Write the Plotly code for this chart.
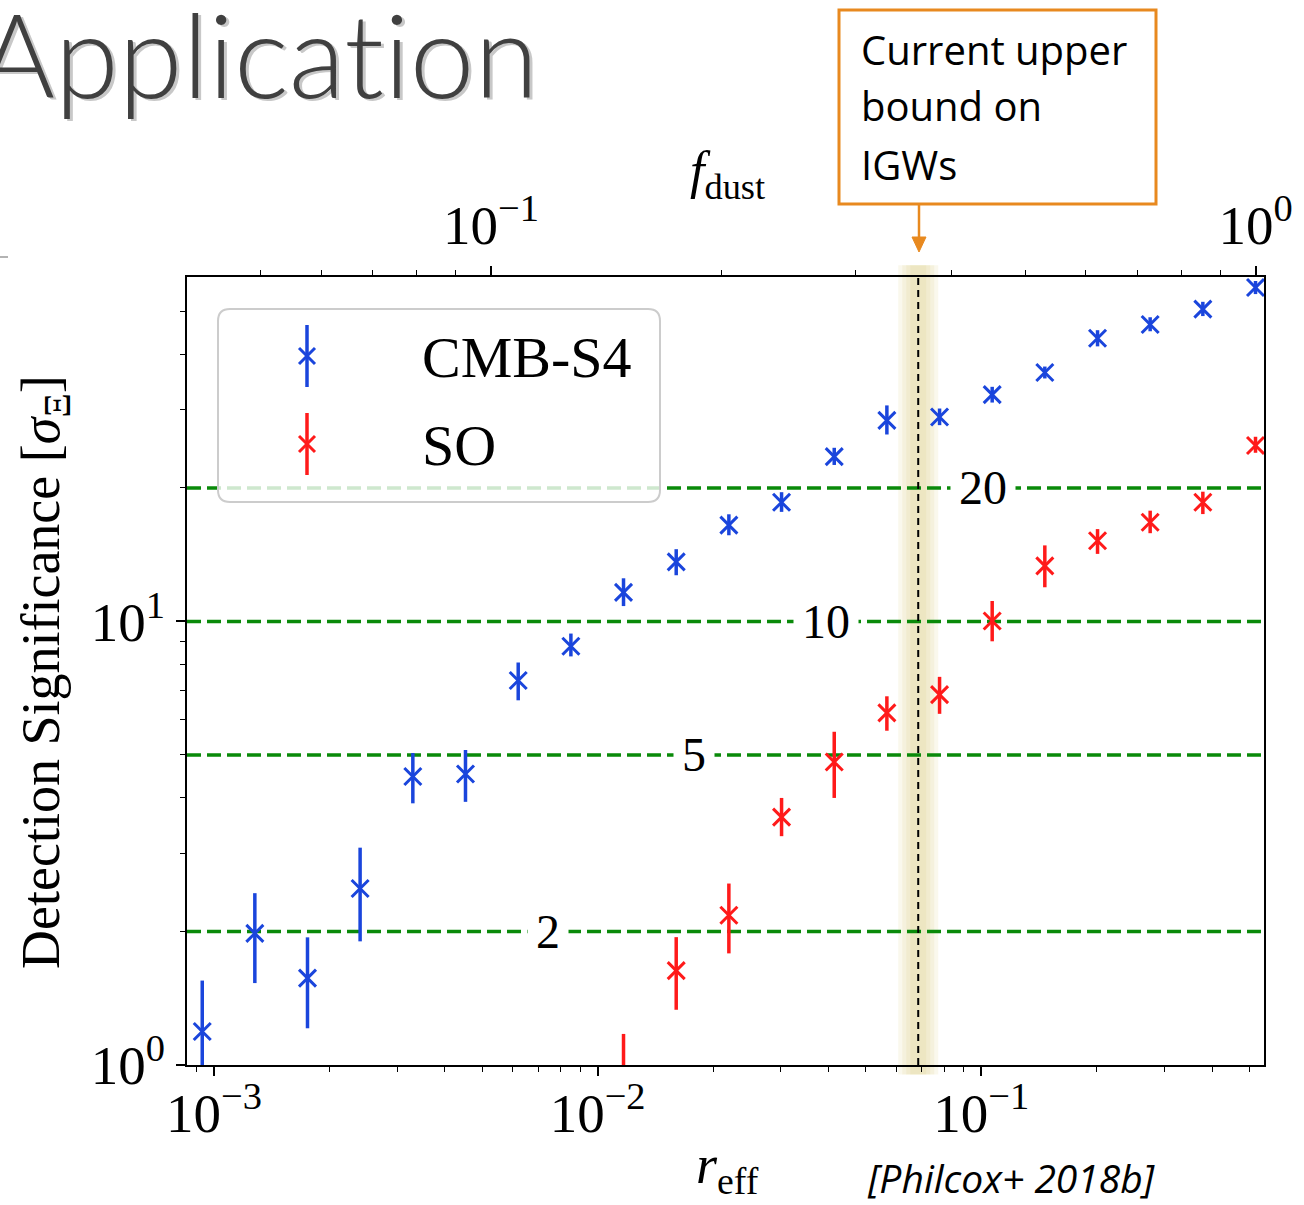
import math
import plotly.graph_objects as go

# ---------------- data ----------------
r_eff = [0.000932, 0.001278, 0.001753, 0.002404, 0.003299, 0.004525, 0.006209,
         0.008518, 0.011682, 0.016028, 0.021985, 0.030163, 0.041378, 0.056754,
         0.077860, 0.10678, 0.14645, 0.20096, 0.27559, 0.37809, 0.51863]

cmb_s4 = [1.19, 1.98, 1.57, 2.50, 4.47, 4.53, 7.36, 8.79, 11.63, 13.62, 16.49,
          18.56, 23.53, 28.39, 28.9, 32.45, 36.4, 43.5, 46.7, 50.6, 56.6]
cmb_s4_err_up = [0.36, 0.46, 0.37, 0.59, 0.58, 0.60, 0.72, 0.60, 0.88, 0.93, 0.95,
                 1.0, 1.1, 2.3, 1.3, 1.35, 1.15, 1.85, 1.8, 1.95, 1.95]
cmb_s4_err_dn = [0.28, 0.45, 0.36, 0.60, 0.58, 0.61, 0.72, 0.45, 0.80, 0.91, 0.85,
                 0.9, 1.0, 2.0, 1.2, 1.3, 1.1, 1.8, 1.6, 1.8, 1.9]

so_r_eff = [0.011682, 0.016028, 0.021985, 0.030163, 0.041378, 0.056754, 0.077860,
            0.10678, 0.14645, 0.20096, 0.27559, 0.37809, 0.51863]
so = [0.88, 1.632, 2.175, 3.62, 4.82, 6.22, 6.84, 10.02, 13.34, 15.2, 16.73, 18.56, 24.93]
so_err_up = [0.295, 0.31, 0.39, 0.38, 0.82, 0.56, 0.66, 1.1, 1.5, 0.95, 1.04, 1.05, 1.15]
so_err_dn = [0.10, 0.30, 0.39, 0.34, 0.82, 0.55, 0.65, 1.0, 1.4, 1.0, 0.92, 1.1, 0.93]

sigma_levels = [2, 5, 10, 20]
sigma_labels = ["2", "5", "10", "20"]
sigma_label_r = [0.00743, 0.01784, 0.03936, 0.10109]

r_bound = 0.0685

x_ticks = [1e-3, 1e-2, 1e-1]
x_ticktext = ["10<sup>−3</sup>", "10<sup>−2</sup>", "10<sup>−1</sup>"]
y_ticks = [1, 10]
y_ticktext = ["10<sup>0</sup>", "10<sup>1</sup>"]
f_ticks = [0.1, 1.0]
f_ticktext = ["10<sup>−1</sup>", "10<sup>0</sup>"]

x_minor = [k * 10.0 ** e for e in (-4, -3, -2, -1) for k in range(2, 10)]
y_minor = [k * 10.0 ** e for e in (0, 1) for k in range(2, 10)]
f_minor = [k * 10.0 ** e for e in (-2, -1) for k in range(2, 10)]

# ---------------- geometry helpers ----------------
W_FIG, H_FIG = 1304, 1205
ML, MR, MT, MB = 187, 40, 277, 140
PW, PH = W_FIG - ML - MR, H_FIG - MT - MB


def px(x):
    return (x - ML) / PW


def py(y):
    return (H_FIG - MB - y) / PH


BLUE = "#1a45dc"
RED = "#ff1a1a"
GREEN = "#0a8a0a"
ORANGE = "#e8891f"
SERIF = "Liberation Serif, DejaVu Serif, serif"
SANS = "Open Sans, Noto Sans, sans-serif"

fig = go.Figure()

# ---------------- data traces ----------------
fig.add_trace(go.Scatter(
    x=r_eff, y=cmb_s4, mode="markers", name="CMB-S4",
    marker=dict(symbol="x-thin", size=17, color=BLUE, line=dict(width=3, color=BLUE)),
    error_y=dict(type="data", symmetric=False, array=cmb_s4_err_up,
                 arrayminus=cmb_s4_err_dn, color=BLUE, thickness=3.5, width=0),
    showlegend=False, cliponaxis=True,
))
fig.add_trace(go.Scatter(
    x=so_r_eff, y=so, mode="markers", name="SO",
    marker=dict(symbol="x-thin", size=17, color=RED, line=dict(width=3, color=RED)),
    error_y=dict(type="data", symmetric=False, array=so_err_up,
                 arrayminus=so_err_dn, color=RED, thickness=3.5, width=0),
    showlegend=False, cliponaxis=True,
))
# invisible trace to activate the top axis
fig.add_trace(go.Scatter(x=f_ticks, y=[1, 1], xaxis="x2", mode="markers",
                         marker=dict(opacity=0), hoverinfo="skip", showlegend=False))

shapes = []
# glow band around the upper bound
for half in (20, 16, 12, 8):
    d = half / 384.0
    shapes.append(dict(type="rect", xref="x", yref="paper",
                       x0=r_bound / 10 ** d, x1=r_bound * 10 ** d, y0=-0.012, y1=1.015,
                       fillcolor="rgba(214,198,105,0.12)", line=dict(width=0), layer="below"))
# significance levels
for lev in sigma_levels:
    shapes.append(dict(type="line", xref="paper", yref="y", x0=0, x1=1, y0=lev, y1=lev,
                       line=dict(color=GREEN, width=3.5, dash="14px,6px"), layer="below"))
# vertical bound line
shapes.append(dict(type="line", xref="x", yref="paper", x0=r_bound, x1=r_bound, y0=0, y1=1,
                   line=dict(color="black", width=2, dash="7px,5px"), layer="above"))


def rounded_rect(x0, y0, x1, y1, r):
    return (f"M {px(x0 + r)},{py(y0)} L {px(x1 - r)},{py(y0)} "
            f"Q {px(x1)},{py(y0)} {px(x1)},{py(y0 + r)} L {px(x1)},{py(y1 - r)} "
            f"Q {px(x1)},{py(y1)} {px(x1 - r)},{py(y1)} L {px(x0 + r)},{py(y1)} "
            f"Q {px(x0)},{py(y1)} {px(x0)},{py(y1 - r)} L {px(x0)},{py(y0 + r)} "
            f"Q {px(x0)},{py(y0)} {px(x0 + r)},{py(y0)} Z")


# legend box
shapes.append(dict(type="path", xref="paper", yref="paper",
                   path=rounded_rect(218, 309, 660, 502, 12),
                   fillcolor="rgba(255,255,255,0.8)", line=dict(color="#cccccc", width=2),
                   layer="above"))
# legend symbols
for col, yc in ((BLUE, 356), (RED, 444)):
    shapes.append(dict(type="line", xref="paper", yref="paper", x0=px(307), x1=px(307),
                       y0=py(yc - 31), y1=py(yc + 31), line=dict(color=col, width=3.5)))
    shapes.append(dict(type="line", xref="paper", yref="paper", x0=px(299), x1=px(315),
                       y0=py(yc - 8), y1=py(yc + 8), line=dict(color=col, width=3)))
    shapes.append(dict(type="line", xref="paper", yref="paper", x0=px(299), x1=px(315),
                       y0=py(yc + 8), y1=py(yc - 8), line=dict(color=col, width=3)))

# annotation box and arrow
shapes.append(dict(type="rect", xref="paper", yref="paper", x0=px(839), x1=px(1156),
                   y0=py(204), y1=py(10), line=dict(color=ORANGE, width=3),
                   fillcolor="white", layer="above"))
shapes.append(dict(type="line", xref="paper", yref="paper", x0=px(919), x1=px(919),
                   y0=py(204), y1=py(240), line=dict(color=ORANGE, width=2.5)))
shapes.append(dict(type="path", xref="paper", yref="paper",
                   path=f"M {px(912)},{py(237)} L {px(926)},{py(237)} L {px(919)},{py(252)} Z",
                   fillcolor=ORANGE, line=dict(color=ORANGE, width=1)))
# small slide artefact at the left edge
shapes.append(dict(type="line", xref="paper", yref="paper", x0=px(0), x1=px(8),
                   y0=py(257), y1=py(257), line=dict(color="#9a9a9a", width=1.5)))

annotations = []
for lev, lab, rx in zip(sigma_levels, sigma_labels, sigma_label_r):
    annotations.append(dict(x=math.log10(rx), y=math.log10(lev), xref="x", yref="y",
                            text=lab, showarrow=False,
                            font=dict(family=SERIF, size=48, color="black"),
                            bgcolor="white", borderpad=8, xanchor="center", yanchor="middle"))
# axis titles
annotations.append(dict(x=px(727), y=py(1168), xref="paper", yref="paper",
                        text="<i>r</i><sub>eff</sub>", showarrow=False,
                        xanchor="center", yanchor="middle",
                        font=dict(family=SERIF, size=54, color="black")))
annotations.append(dict(x=px(727), y=py(174), xref="paper", yref="paper",
                        text="<i>f</i><sub>dust</sub>", showarrow=False,
                        xanchor="center", yanchor="middle",
                        font=dict(family=SERIF, size=52, color="black")))
annotations.append(dict(x=px(44), y=py(672), xref="paper", yref="paper", textangle=-90,
                        text="Detection Significance [<i>σ</i><sub>Ξ</sub>]", showarrow=False,
                        xanchor="center", yanchor="middle",
                        font=dict(family=SERIF, size=54, color="black")))
# legend texts
annotations.append(dict(x=px(420), y=py(357), xref="paper", yref="paper", text="CMB-S4",
                        showarrow=False, xanchor="left", yanchor="middle",
                        font=dict(family=SERIF, size=58, color="black")))
annotations.append(dict(x=px(420), y=py(445), xref="paper", yref="paper", text="SO",
                        showarrow=False, xanchor="left", yanchor="middle",
                        font=dict(family=SERIF, size=58, color="black")))
# box text
for txt, yc in (("Current upper", 50), ("bound on", 106), ("IGWs", 164)):
    annotations.append(dict(x=px(859), y=py(yc), xref="paper", yref="paper", text=txt,
                            showarrow=False, xanchor="left", yanchor="middle",
                            font=dict(family=SANS, size=40, color="black")))
# slide title with shadow
TITLE = "Applicat\u200cion"
annotations.append(dict(x=px(543), y=py(56), xref="paper", yref="paper",
                        text=TITLE, showarrow=False, xanchor="right", yanchor="middle",
                        font=dict(family="Lato, Open Sans, sans-serif", size=116,
                                  color="#c8c8c8", weight=300)))
annotations.append(dict(x=px(540), y=py(53), xref="paper", yref="paper", text=TITLE,
                        showarrow=False, xanchor="right", yanchor="middle",
                        font=dict(family="Lato, Open Sans, sans-serif", size=116,
                                  color="#404040", weight=300)))
# citation
annotations.append(dict(x=px(1011), y=py(1177), xref="paper", yref="paper",
                        text="<i>[Philcox+ 2018b]</i>", showarrow=False,
                        xanchor="center", yanchor="middle",
                        font=dict(family=SANS, size=39, color="black")))

axis_common = dict(type="log", showgrid=False, zeroline=False, showline=True,
                   linecolor="black", linewidth=2, ticks="outside", ticklen=9,
                   tickwidth=1.5, tickcolor="black",
                   tickfont=dict(family=SERIF, size=55, color="black"))

fig.update_layout(
    width=W_FIG, height=H_FIG,
    margin=dict(l=ML, r=MR, t=MT, b=MB, pad=0),
    paper_bgcolor="white", plot_bgcolor="white",
    xaxis=dict(**axis_common, range=[-3.0703, -0.2630], mirror=True,
               tickvals=x_ticks, ticktext=x_ticktext,
               minor=dict(tickvals=x_minor, ticks="outside", ticklen=5, tickwidth=1.2,
                          tickcolor="black", showgrid=False)),
    xaxis2=dict(**axis_common, range=[-1.3975, 0.0111], overlaying="x", side="top",
                anchor="y", tickvals=f_ticks, ticktext=f_ticktext,
                minor=dict(tickvals=f_minor, ticks="outside", ticklen=5, tickwidth=1.2,
                           tickcolor="black", showgrid=False)),
    yaxis=dict(**axis_common, range=[0, 1.7765], mirror=True,
               tickvals=y_ticks, ticktext=y_ticktext,
               minor=dict(tickvals=y_minor, ticks="outside", ticklen=5, tickwidth=1.2,
                          tickcolor="black", showgrid=False)),
    shapes=shapes,
    annotations=annotations,
    showlegend=False,
)

try:
    fig.layout.xaxis.ticklabelstandoff = -10
except Exception:
    pass

fig.write_html("out.html")
